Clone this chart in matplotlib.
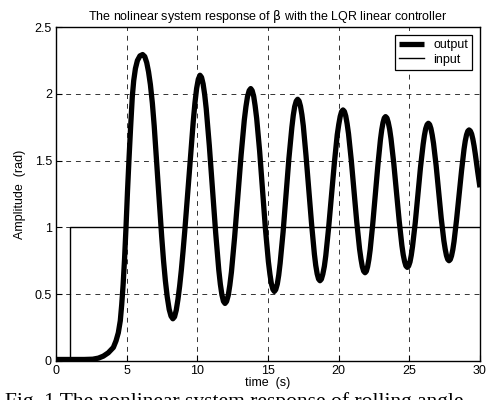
import matplotlib
matplotlib.use('Agg')
import matplotlib.pyplot as plt

plt.rcParams['font.family'] = ['Liberation Sans', 'DejaVu Sans']

# output response (time in s, amplitude in rad)
t_out = [0, 1, 2, 2.6, 3.0, 3.35, 3.7, 4.06, 4.25, 4.41, 4.55, 4.65, 4.75, 4.85, 4.95,
         5.06, 5.17, 5.28, 5.40, 5.50, 5.62, 5.76, 5.94, 6.13,
         6.28, 6.42, 6.55, 6.68, 6.82, 6.95, 7.08, 7.21, 7.35, 7.48, 7.61, 7.74, 7.87, 8.01, 8.14, 8.27,
         8.39, 8.51, 8.63, 8.75, 8.87, 8.99, 9.11, 9.23, 9.35, 9.47, 9.59, 9.71, 9.83, 9.95, 10.07, 10.19,
         10.30, 10.41, 10.52, 10.63, 10.85, 11.075, 11.30, 11.52, 11.63, 11.74, 11.85, 11.96,
         12.07, 12.19, 12.30, 12.415, 12.64, 12.87, 13.10, 13.325, 13.44, 13.55, 13.67, 13.78,
         13.88, 13.99, 14.09, 14.20, 14.41, 14.615, 14.82, 15.03, 15.14, 15.24, 15.35, 15.45,
         15.55, 15.66, 15.76, 15.86, 16.07, 16.275, 16.48, 16.69, 16.79, 16.89, 17.00, 17.10,
         17.20, 17.30, 17.40, 17.50, 17.69, 17.89, 18.09, 18.285, 18.38, 18.48, 18.58, 18.68,
         18.78, 18.88, 18.99, 19.09, 19.29, 19.495, 19.70, 19.90, 20.01, 20.11, 20.21, 20.31,
         20.41, 20.505, 20.60, 20.70, 20.895, 21.09, 21.285, 21.48, 21.58, 21.675, 21.77, 21.87,
         21.96, 22.05, 22.14, 22.23, 22.41, 22.595, 22.78, 22.96, 23.05, 23.14, 23.23, 23.32,
         23.42, 23.51, 23.61, 23.705, 23.90, 24.09, 24.285, 24.475, 24.57, 24.67, 24.76, 24.86,
         24.95, 25.05, 25.14, 25.23, 25.42, 25.605, 25.79, 25.98, 26.07, 26.16, 26.26, 26.35,
         26.44, 26.53, 26.62, 26.715, 26.90, 27.08, 27.26, 27.445, 27.54, 27.63, 27.72, 27.81,
         27.90, 27.99, 28.08, 28.165, 28.34, 28.52, 28.70, 28.875, 28.96, 29.05, 29.14, 29.23,
         29.32, 29.41, 29.50, 29.585, 29.67, 29.76, 29.85, 30.0]
y_out = [0.01, 0.01, 0.01, 0.012, 0.02, 0.035, 0.06, 0.10, 0.15, 0.21, 0.30, 0.42, 0.57, 0.76, 0.99,
         1.27, 1.52, 1.75, 1.98, 2.10, 2.19, 2.25, 2.285, 2.295,
         2.28, 2.235, 2.165, 2.07, 1.93, 1.76, 1.56, 1.35, 1.13, 0.93, 0.75, 0.60, 0.48, 0.385, 0.335, 0.315,
         0.33, 0.38, 0.46, 0.56, 0.68, 0.82, 0.97, 1.13, 1.29, 1.46, 1.63, 1.79, 1.93, 2.04, 2.11, 2.14,
         2.124, 2.075, 1.996, 1.89, 1.612, 1.285, 0.958, 0.68, 0.574, 0.495, 0.446, 0.43,
         0.445, 0.491, 0.566, 0.666, 0.927, 1.235, 1.543, 1.804, 1.904, 1.979, 2.025, 2.04,
         2.025, 1.982, 1.912, 1.817, 1.571, 1.28, 0.989, 0.743, 0.648, 0.578, 0.535, 0.52,
         0.534, 0.575, 0.641, 0.731, 0.965, 1.24, 1.515, 1.749, 1.839, 1.905, 1.946, 1.96,
         1.947, 1.908, 1.845, 1.761, 1.54, 1.28, 1.02, 0.799, 0.715, 0.652, 0.613, 0.60,
         0.612, 0.649, 0.708, 0.787, 0.995, 1.24, 1.485, 1.693, 1.772, 1.831, 1.868, 1.88,
         1.868, 1.834, 1.777, 1.701, 1.503, 1.27, 1.037, 0.839, 0.763, 0.706, 0.672, 0.66,
         0.671, 0.705, 0.759, 0.831, 1.021, 1.245, 1.469, 1.659, 1.731, 1.785, 1.819, 1.83,
         1.819, 1.787, 1.735, 1.665, 1.481, 1.265, 1.049, 0.865, 0.795, 0.743, 0.711, 0.70,
         0.710, 0.741, 0.791, 0.858, 1.033, 1.24, 1.447, 1.622, 1.689, 1.739, 1.77, 1.78,
         1.77, 1.741, 1.693, 1.629, 1.462, 1.265, 1.068, 0.901, 0.837, 0.789, 0.76, 0.75,
         0.759, 0.787, 0.833, 0.893, 1.053, 1.24, 1.427, 1.587, 1.647, 1.693, 1.721, 1.73,
         1.722, 1.70, 1.66, 1.61, 1.55, 1.48, 1.41, 1.30]

# step input
t_in = [0, 1, 1, 30]
y_in = [0, 0, 1, 1]

xticks = [0, 5, 10, 15, 20, 25, 30]
yticks = [0, 0.5, 1, 1.5, 2, 2.5]
ytick_labels = ['0', '0.5', '1', '1.5', '2', '2.5']

fig = plt.figure(figsize=(4.89, 4.0), dpi=100)
fig.set_facecolor('white')
ax = fig.add_axes([0.1145, 0.098, 0.867, 0.834])

ax.plot(t_out, y_out, color='black', lw=3.8, solid_joinstyle='round',
        solid_capstyle='butt', label='output', zorder=3)
ax.plot(t_in, y_in, color='black', lw=1.0, label='input', zorder=2)

ax.set_xlim(0, 30)
ax.set_ylim(0, 2.5)
ax.set_xticks(xticks)
ax.set_yticks(yticks)
ax.set_yticklabels(ytick_labels)
ax.tick_params(direction='in', length=4, width=0.8, labelsize=9, pad=3)
ax.grid(True, color='0.2', lw=0.7, ls=(0, (5, 5)))
for s in ax.spines.values():
    s.set_linewidth(1.0)

ax.set_title(r'The nolinear system response of $\mathrm{\beta}$ with the LQR linear controller',
             fontsize=9, pad=5)
ax.set_xlabel('time  (s)', fontsize=9, labelpad=0)
ax.set_ylabel('Amplitude  (rad)', fontsize=9, labelpad=6)

leg = ax.legend(loc='upper right', fontsize=9, fancybox=False, framealpha=1,
                edgecolor='black', borderaxespad=0.6, handlelength=2.0,
                borderpad=0.35, labelspacing=0.2, handletextpad=0.7)
leg.get_frame().set_linewidth(0.9)

# figure caption, cut by the lower edge as in the scanned page
fig.text(0.01, 0.021, 'Fig. 1 The nonlinear system response of rolling angle',
         family='Liberation Serif', fontsize=15.5, va='top', ha='left')

plt.savefig('out.png', dpi=100)
